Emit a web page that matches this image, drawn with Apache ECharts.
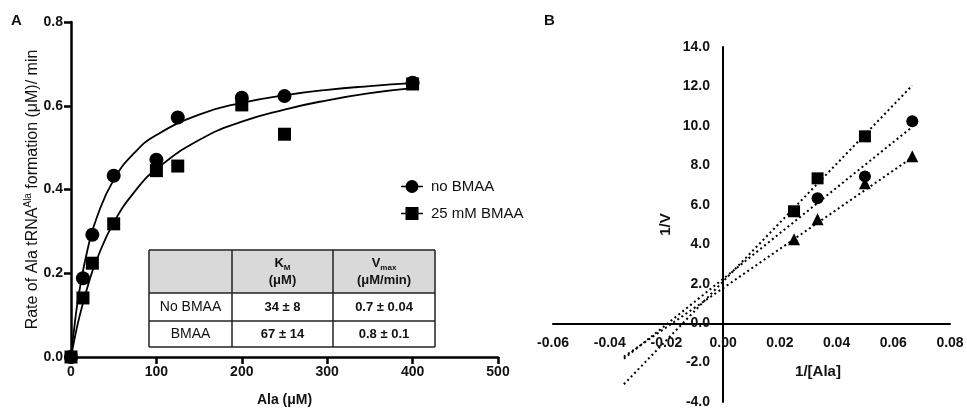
<!DOCTYPE html>
<html>
<head>
<meta charset="utf-8">
<script src="https://cdn.jsdelivr.net/npm/echarts@6/dist/echarts.min.js"></script>
<style>
html, body { margin: 0; padding: 0; background: #fff; }
#chart { width: 967px; height: 412px; }
</style>
</head>
<body>
<div id="chart"></div>
<script>
// Panel A - rate vs Ala concentration
var alaConc = [0, 14, 25, 50, 100, 125, 200, 250, 400];
var rateNoBmaa = [0, 0.188, 0.292, 0.433, 0.471, 0.572, 0.619, 0.623, 0.655];
var rateBmaa = [0, 0.141, 0.224, 0.318, 0.445, 0.456, 0.602, 0.532, 0.652];
// fitted curves
var curveX = [0, 5, 10, 20, 30, 50, 75, 100, 150, 200, 250, 300, 350, 400];
var curveNoBmaa = [0, 0.09, 0.16, 0.262, 0.332, 0.423, 0.489, 0.53, 0.579, 0.607, 0.625, 0.638, 0.647, 0.654];
var curveBmaa = [0, 0.052, 0.097, 0.172, 0.232, 0.321, 0.396, 0.449, 0.518, 0.562, 0.591, 0.613, 0.63, 0.642];

// table
var tableRows = [
  ["No BMAA", "34 ± 8", "0.7 ± 0.04"],
  ["BMAA", "67 ± 14", "0.8 ± 0.1"]
];

// Panel B - Lineweaver-Burk
var lbSquareX = [0.025, 0.0333, 0.05];
var lbSquareY = [5.67, 7.34, 9.47];
var lbCircleX = [0.0333, 0.05, 0.0667];
var lbCircleY = [6.33, 7.44, 10.23];
var lbTriangleX = [0.025, 0.0333, 0.05, 0.0667];
var lbTriangleY = [4.25, 5.27, 7.09, 8.46];
// dotted fit lines: [x start, x end], [y start, y end]
var fitX = [-0.035, 0.0667];
var fitSquareY = [-3.1, 12.05];
var fitCircleY = [-1.8, 9.95];
var fitTriangleY = [-1.7, 8.4];

function zip(xs, ys) {
  return xs.map(function (x, i) { return [x, ys[i]]; });
}

var font = "Liberation Sans, Arial, sans-serif";
var black = "#000";

var chart = echarts.init(document.getElementById("chart"));

// table graphic
var colX = [149, 232, 333, 435];
var rowY = [250, 293, 321, 347];
var tableGfx = [];
tableGfx.push({ type: "rect", shape: { x: colX[0], y: rowY[0], width: colX[3] - colX[0], height: rowY[1] - rowY[0] },
  style: { fill: "#d9d9d9", stroke: null }, z: 10 });
for (var r = 0; r < rowY.length; r++) {
  tableGfx.push({ type: "line", shape: { x1: colX[0], y1: rowY[r], x2: colX[3], y2: rowY[r] },
    style: { stroke: "#222", lineWidth: 1.5 }, z: 11 });
}
for (var c = 0; c < colX.length; c++) {
  tableGfx.push({ type: "line", shape: { x1: colX[c], y1: rowY[0], x2: colX[c], y2: rowY[3] },
    style: { stroke: "#222", lineWidth: 1.5 }, z: 11 });
}
var hdr = [
  "{b|K}{s|M}\n{b|(μM)}",
  "{b|V}{s|max}\n{b|(μM/min)}"
];
for (var h = 0; h < 2; h++) {
  tableGfx.push({ type: "text", x: (colX[h + 1] + colX[h + 2]) / 2, y: (rowY[0] + rowY[1]) / 2, z: 12,
    style: { text: hdr[h], align: "center", verticalAlign: "middle", fill: "#111", font: "bold 13px " + font,
      rich: { b: { fontSize: 13, fontWeight: "bold", fontFamily: font, lineHeight: 17 },
              s: { fontSize: 8, fontWeight: "bold", fontFamily: font, lineHeight: 17, verticalAlign: "bottom" } } } });
}
tableRows.forEach(function (row, ri) {
  row.forEach(function (txt, ci) {
    tableGfx.push({ type: "text", x: (colX[ci] + colX[ci + 1]) / 2, y: (rowY[ri + 1] + rowY[ri + 2]) / 2, z: 12,
      style: { text: txt, align: "center", verticalAlign: "middle", fill: "#111",
        font: (ci === 0 ? "14px " : "bold 13px ") + font } });
  });
});

var circleIcon = "path://M0,6 L22,6 L22,7.6 L0,7.6 Z M11,0.3 A6.5,6.5 0 1,1 10.99,0.3 Z";
var squareIcon = "path://M0,6 L22,6 L22,7.6 L0,7.6 Z M4.5,0.3 L17.5,0.3 L17.5,13.3 L4.5,13.3 Z";

var axisText = { color: "#111", fontFamily: font, fontWeight: "bold", fontSize: 14 };

chart.setOption({
  animation: false,
  backgroundColor: "#fff",
  legend: {
    orient: "vertical", left: 396, top: 174, itemWidth: 22, itemHeight: 14, itemGap: 12,
    textStyle: { color: "#111", fontFamily: font, fontSize: 15, padding: [0, 0, 0, 3] },
    data: [{ name: "no BMAA", icon: circleIcon }, { name: "25 mM BMAA", icon: squareIcon }],
    itemStyle: { color: black, opacity: 1 }
  },
  grid: [
    { left: 71, top: 22, width: 427, height: 340 },
    { left: 553, top: 47, width: 397, height: 355 }
  ],
  xAxis: [
    { gridIndex: 0, type: "value", min: 0, max: 500, interval: 100,
      name: "Ala (μM)", nameLocation: "middle", nameGap: 36, nameMoveOverlap: false,
      nameTextStyle: { color: "#111", fontFamily: font, fontWeight: "bold", fontSize: 14 },
      axisLine: { lineStyle: { color: black, width: 2.5 } },
      axisTick: { length: 7, lineStyle: { color: black, width: 2.5 } },
      axisLabel: Object.assign({ margin: 8 }, axisText),
      splitLine: { show: false } },
    { gridIndex: 1, type: "value", min: -0.06, max: 0.08, interval: 0.02,
      position: "bottom", offset: -78,
      axisLine: { onZero: false, lineStyle: { color: black, width: 2 } },
      axisTick: { show: false },
      axisLabel: { margin: 12, color: "#111", fontFamily: font, fontWeight: "bold", fontSize: 14,
        formatter: function (v) { return v.toFixed(2); } },
      splitLine: { show: false } }
  ],
  yAxis: [
    { gridIndex: 0, type: "value", min: 0, max: 0.8, interval: 0.2,
      name: "{a|Rate of Ala tRNA}{sup|Ala}{a| formation (μM)/ min}", nameLocation: "middle", nameGap: 28,
      nameMoveOverlap: false,
      nameTextStyle: { rich: {
        a: { color: "#111", fontFamily: font, fontSize: 16, lineHeight: 20 },
        sup: { color: "#111", fontFamily: font, fontSize: 10, lineHeight: 20, verticalAlign: "top" } } },
      axisLine: { lineStyle: { color: black, width: 2.5 } },
      axisTick: { length: 7, lineStyle: { color: black, width: 2.5 } },
      axisLabel: Object.assign({ margin: 8, formatter: function (v) { return v.toFixed(1); } }, axisText),
      splitLine: { show: false } },
    { gridIndex: 1, type: "value", min: -4, max: 14, interval: 2,
      position: "left", offset: -170,
      name: "1/V", nameLocation: "middle", nameGap: 50, nameMoveOverlap: false,
      nameTextStyle: { color: "#111", fontFamily: font, fontWeight: "bold", fontSize: 15 },
      axisLine: { onZero: false, lineStyle: { color: black, width: 2 } },
      axisTick: { show: false },
      axisLabel: { margin: 13, color: "#111", fontFamily: font, fontWeight: "bold", fontSize: 14,
        formatter: function (v) { return v.toFixed(1); } },
      splitLine: { show: false } }
  ],
  graphic: [
    { type: "text", left: 11, top: 13, style: { text: "A", fill: "#111", font: "bold 15px " + font } },
    { type: "text", left: 544, top: 13, style: { text: "B", fill: "#111", font: "bold 15px " + font } },
    { type: "text", x: 818, y: 372, style: { text: "1/[Ala]", align: "center", verticalAlign: "middle", fill: "#111", font: "bold 15px " + font } }
  ].concat(tableGfx),
  series: [
    { type: "line", xAxisIndex: 0, yAxisIndex: 0, smooth: true, showSymbol: false, silent: true,
      data: zip(curveX, curveNoBmaa), lineStyle: { color: black, width: 1.8 } },
    { type: "line", xAxisIndex: 0, yAxisIndex: 0, smooth: true, showSymbol: false, silent: true,
      data: zip(curveX, curveBmaa), lineStyle: { color: black, width: 1.8 } },
    { name: "no BMAA", type: "scatter", xAxisIndex: 0, yAxisIndex: 0, symbol: "circle", symbolSize: 14,
      itemStyle: { color: black, opacity: 1 }, data: zip(alaConc, rateNoBmaa) },
    { name: "25 mM BMAA", type: "scatter", xAxisIndex: 0, yAxisIndex: 0, symbol: "rect", symbolSize: 13,
      itemStyle: { color: black, opacity: 1 }, data: zip(alaConc, rateBmaa) },

    { type: "line", xAxisIndex: 1, yAxisIndex: 1, showSymbol: false, silent: true,
      data: zip(fitX, fitSquareY), lineStyle: { color: black, width: 2, type: [2, 3] } },
    { type: "line", xAxisIndex: 1, yAxisIndex: 1, showSymbol: false, silent: true,
      data: zip(fitX, fitCircleY), lineStyle: { color: black, width: 2, type: [2, 3] } },
    { type: "line", xAxisIndex: 1, yAxisIndex: 1, showSymbol: false, silent: true,
      data: zip(fitX, fitTriangleY), lineStyle: { color: black, width: 2, type: [2, 3] } },
    { type: "scatter", xAxisIndex: 1, yAxisIndex: 1, symbol: "rect", symbolSize: 12,
      itemStyle: { color: black, opacity: 1 }, data: zip(lbSquareX, lbSquareY) },
    { type: "scatter", xAxisIndex: 1, yAxisIndex: 1, symbol: "circle", symbolSize: 12,
      itemStyle: { color: black, opacity: 1 }, data: zip(lbCircleX, lbCircleY) },
    { type: "scatter", xAxisIndex: 1, yAxisIndex: 1, symbol: "triangle", symbolSize: 12,
      itemStyle: { color: black, opacity: 1 }, data: zip(lbTriangleX, lbTriangleY) }
  ]
});
</script>
</body>
</html>
